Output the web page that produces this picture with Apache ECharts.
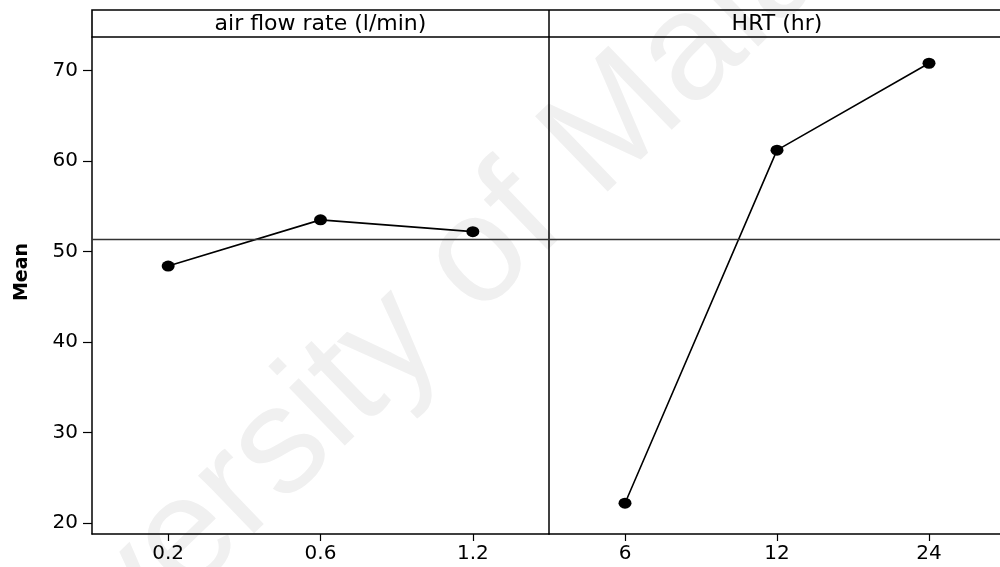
<!DOCTYPE html>
<html>
<head>
<meta charset="utf-8">
<script src="https://cdn.jsdelivr.net/npm/echarts@6/dist/echarts.min.js"></script>
<style>html,body{margin:0;padding:0;background:#fff}#c{width:1000px;height:567px}</style>
</head>
<body>
<div id="c"></div>
<script>
const airFlowCats = ['0.2', '0.6', '1.2'];
const airFlowMeans = [48.4, 53.5, 52.2];
const hrtCats = ['6', '12', '24'];
const hrtMeans = [22.2, 61.2, 70.8];
const yTicks = [20, 30, 40, 50, 60, 70];
const panelTitles = ['air flow rate (l/min)', 'HRT (hr)'];
const yAxisTitle = 'Mean';
const watermark = 'University of Malaya';

const allMeans = airFlowMeans.concat(hrtMeans);
const grandMean = allMeans.reduce((a, b) => a + b, 0) / allMeans.length;

const FONT = 'DejaVu Sans';
const Y_MIN = 18.8, Y_MAX = 73.7;
const L = 92, TOP = 37, H = 497, W = 456, DIV = 549;

function xAx(idx, cats) {
  return {
    type: 'category', gridIndex: idx, data: cats, boundaryGap: true,
    axisLine: { show: true, lineStyle: { color: '#000', width: 1.5 } },
    axisTick: { show: true, alignWithLabel: true, length: 7, lineStyle: { color: '#000', width: 1.2 } },
    axisLabel: { color: '#000', fontSize: 20, fontFamily: FONT, margin: 10 },
    splitLine: { show: false }
  };
}
function yAx(idx, showLabels) {
  return {
    type: 'value', gridIndex: idx, min: Y_MIN, max: Y_MAX,
    axisLine: { show: true, lineStyle: { color: '#000', width: 1.5 } },
    axisTick: { show: showLabels, length: 9, customValues: yTicks, lineStyle: { color: '#000', width: 1.2 } },
    axisLabel: { show: showLabels, customValues: yTicks, color: '#000', fontSize: 20, fontFamily: FONT, margin: 14 },
    splitLine: { show: false }
  };
}
function lineSeries(idx, data) {
  return {
    type: 'line', xAxisIndex: idx, yAxisIndex: idx, data: data,
    symbol: 'circle', symbolSize: [13, 11],
    itemStyle: { color: '#000' },
    lineStyle: { color: '#000', width: 1.6 },
    animation: false,
    markLine: {
      silent: true, symbol: 'none', label: { show: false },
      lineStyle: { color: '#333', width: 1.3, type: 'solid' },
      data: [{ yAxis: grandMean }]
    }
  };
}

const chart = echarts.init(document.getElementById('c'), null, { renderer: 'canvas' });
chart.setOption({
  backgroundColor: '#fff',
  animation: false,
  grid: [
    { left: L, top: TOP, width: DIV - L, height: H, outerBoundsMode: 'none', containLabel: false },
    { left: DIV, top: TOP, width: W, height: H, outerBoundsMode: 'none', containLabel: false }
  ],
  xAxis: [xAx(0, airFlowCats), xAx(1, hrtCats)],
  yAxis: [yAx(0, true), yAx(1, false)],
  series: [lineSeries(0, airFlowMeans), lineSeries(1, hrtMeans)],
  graphic: [
    {
      type: 'text', x: 430, y: 305, rotation: 44 * Math.PI / 180, z: -10, silent: true,
      style: { text: watermark, fontSize: 152, fontFamily: 'Liberation Sans', fill: '#f0f0f0', align: 'center', verticalAlign: 'middle' }
    },
    { type: 'rect', z: 10, shape: { x: L, y: 10, width: 1005 - L, height: TOP - 10 },
      style: { fill: 'none', stroke: '#000', lineWidth: 1.6 } },
    { type: 'line', z: 10, shape: { x1: DIV, y1: 10, x2: DIV, y2: TOP }, style: { stroke: '#000', lineWidth: 1.5 } },
    { type: 'text', z: 10, x: (L + DIV) / 2, y: 24,
      style: { text: panelTitles[0], fontSize: 22, fontFamily: FONT, fill: '#000', align: 'center', verticalAlign: 'middle' } },
    { type: 'text', z: 10, x: (DIV + 1005) / 2, y: 24,
      style: { text: panelTitles[1], fontSize: 22, fontFamily: FONT, fill: '#000', align: 'center', verticalAlign: 'middle' } },
    { type: 'text', z: 10, x: 22, y: 272, rotation: Math.PI / 2,
      style: { text: yAxisTitle, fontSize: 19, fontWeight: 'bold', fontFamily: FONT, fill: '#000', align: 'center', verticalAlign: 'middle' } }
  ]
});
</script>
</body>
</html>
